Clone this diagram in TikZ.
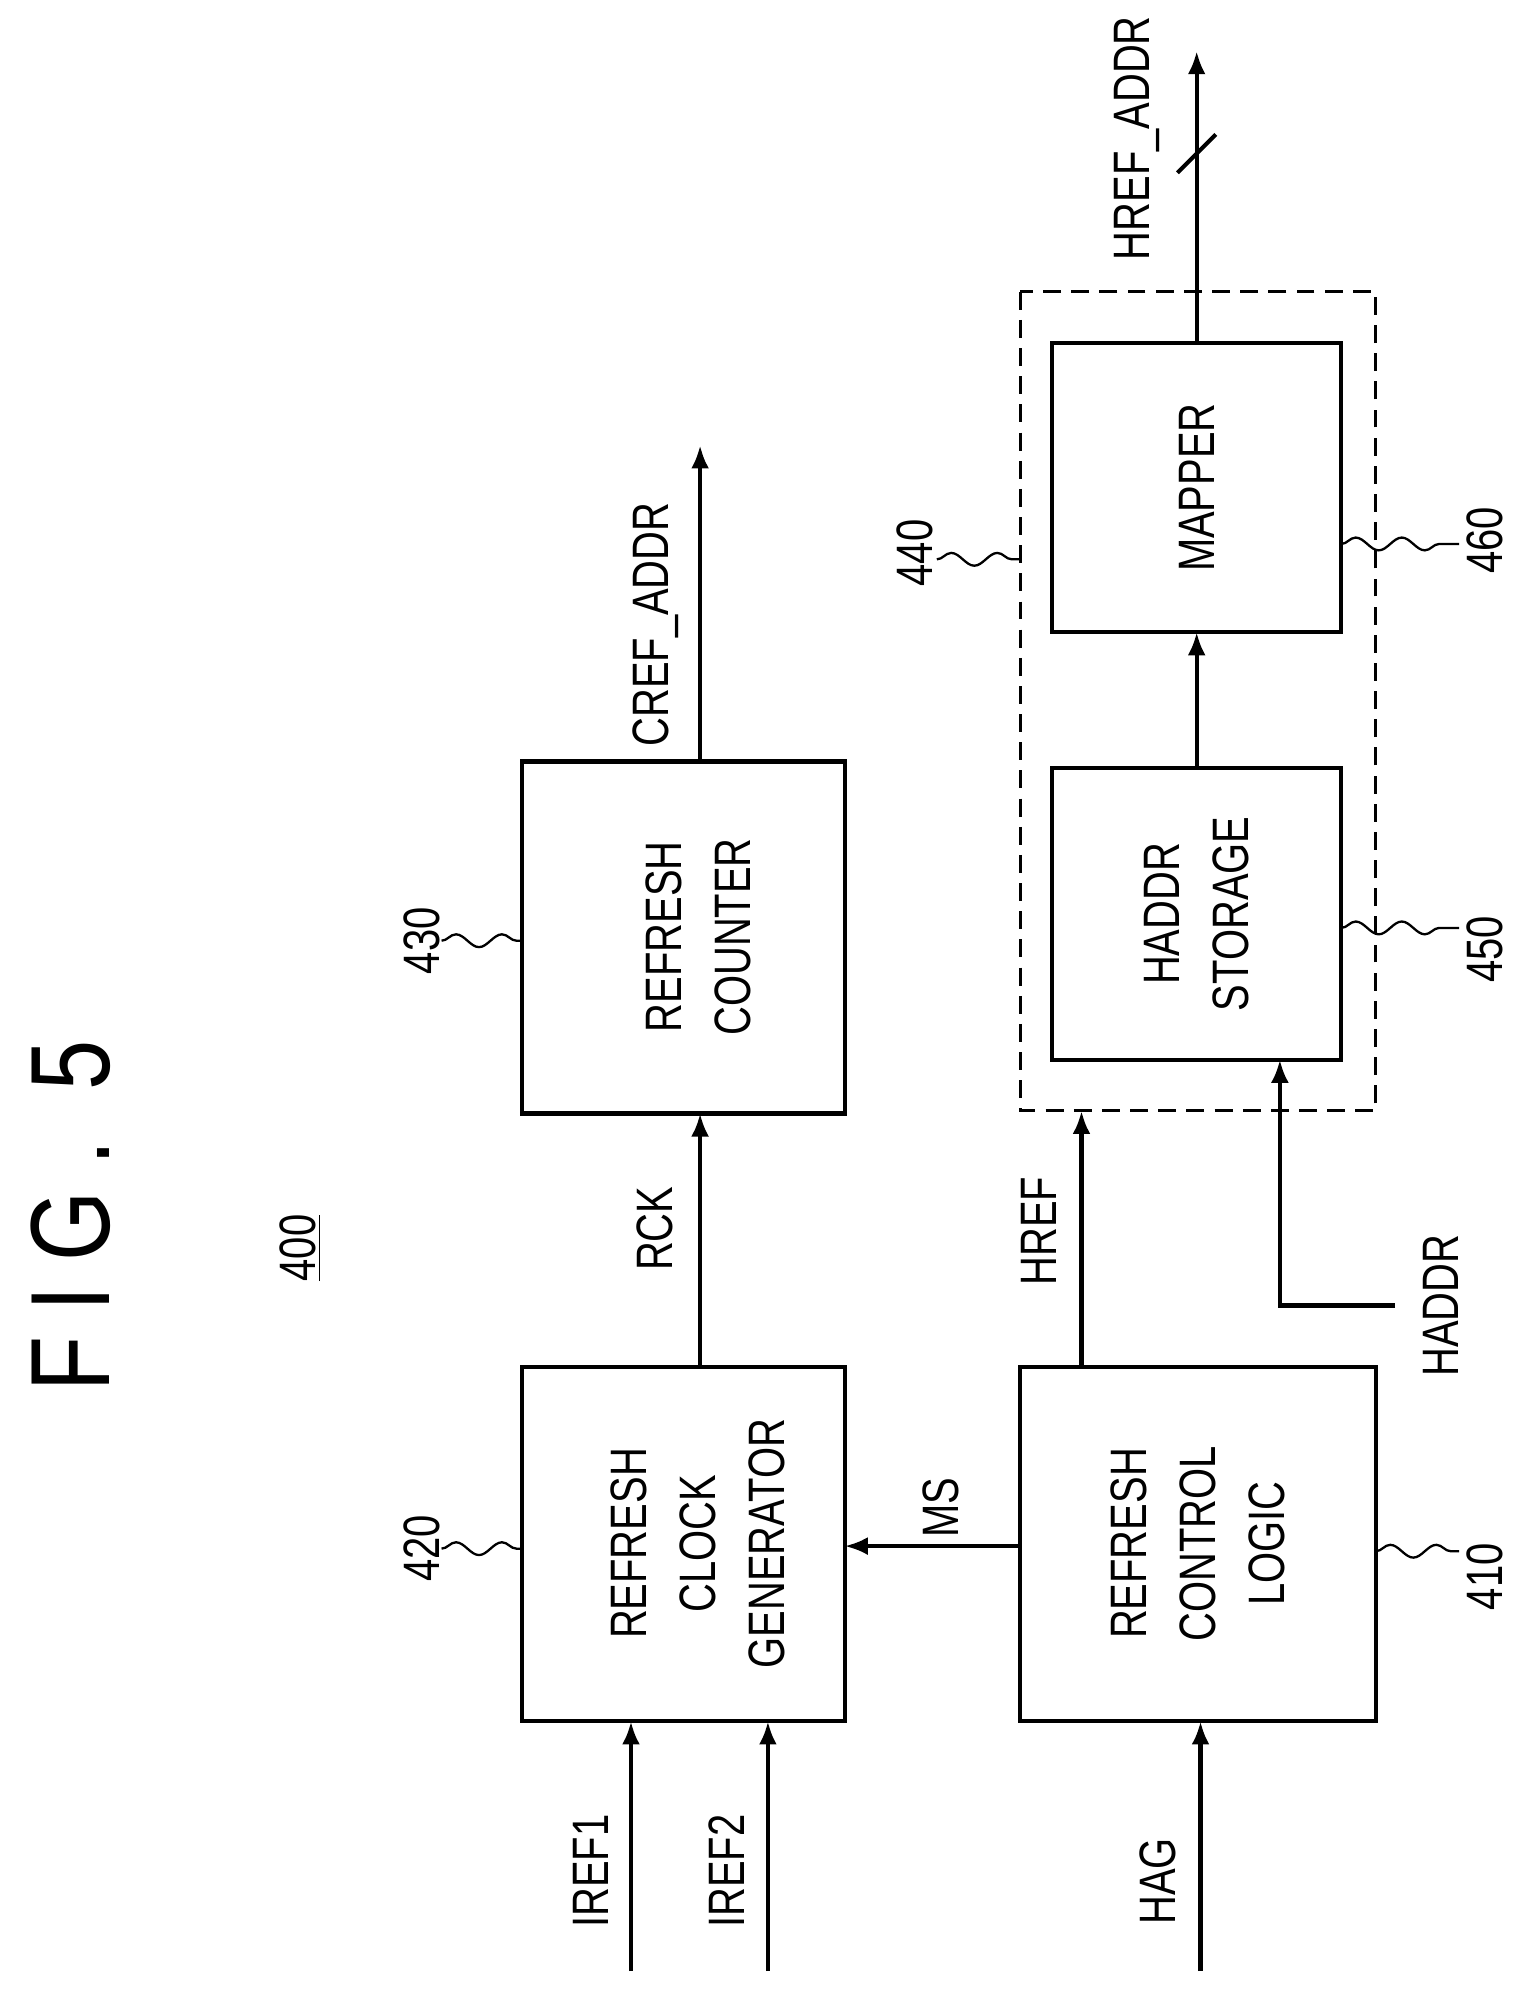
\documentclass[tikz,border=0pt]{standalone}
\usepackage{fontspec}
\setmainfont{Liberation Sans}
\usetikzlibrary{arrows.meta,decorations.pathmorphing}
\newcommand{\nt}[1]{\scalebox{0.78}[1]{#1}}
\begin{document}
\begin{tikzpicture}[x=0.5pt,y=-0.5pt,
  blk/.style={draw,line width=1.6pt},
  sig/.style={line width=1.6pt,-{Latex[length=9pt,width=7pt]}},
  lbl/.style={rotate=90,font=\fontsize{20}{24}\selectfont,inner sep=0pt},
  ml/.style={lbl,align=center,font=\fontsize{20}{27}\selectfont},
  sq/.style={line width=0.9pt,decorate,decoration={snake,amplitude=2.5pt,segment length=18pt}}]
\useasboundingbox (0,0) rectangle (1190,1565);
% boxes
\draw[blk] (408,1068) rectangle (660,1345);
\draw[blk] (797,1068) rectangle (1075,1345);
\draw[blk] (408,595) rectangle (660,870);
\draw[blk] (822,600) rectangle (1048,828);
\draw[blk] (822,268) rectangle (1048,494);
\draw[line width=1.2pt,dash pattern=on 7pt off 4pt] (797,228) rectangle (1075,868);
% box texts
\node[ml] at (545,1206) {\nt{REFRESH}\\\nt{CLOCK}\\\nt{GENERATOR}};
\node[ml] at (936,1206) {\nt{REFRESH}\\\nt{CONTROL}\\\nt{LOGIC}};
\node[ml] at (546,732) {\nt{REFRESH}\\\nt{COUNTER}};
\node[ml] at (935,714) {\nt{HADDR}\\\nt{STORAGE}};
\node[lbl] at (935,381) {\nt{MAPPER}};
% signals
\draw[sig] (493,1540) -- (493,1345);
\draw[sig] (600,1540) -- (600,1345);
\draw[sig] (938,1540) -- (938,1345);
\draw[sig] (547,1068) -- (547,870);
\draw[sig] (547,595) -- (547,348);
\draw[sig] (797,1208) -- (660,1208);
\draw[sig] (845,1068) -- (845,868);
\draw[sig] (1090,1020) -- (1000,1020) -- (1000,828);
\draw[sig] (935,600) -- (935,494);
\draw[sig] (935,268) -- (935,40);
\draw[line width=1.6pt] (920,135) -- (950,105);
% signal labels
\node[lbl] at (462,1462) {\nt{IREF1}};
\node[lbl] at (568,1462) {\nt{IREF2}};
\node[lbl] at (905,1470) {\nt{HAG}};
\node[lbl] at (735,1178) {\nt{MS}};
\node[lbl] at (512,960) {\nt{RCK}};
\node[lbl] at (512,488) {\nt{CREF\_ADDR}};
\node[lbl] at (812,962) {\nt{HREF}};
\node[lbl] at (1126,1020) {\nt{HADDR}};
\node[lbl] at (888,108) {\nt{HREF\_ADDR}};
% title
\node[lbl,font=\fontsize{44}{50}\selectfont] at (55,950) {\scalebox{0.8}[1]{F I G .\ \ 5}};
\node[lbl] at (235,975) {\nt{\underline{400}}};
% reference numbers
\node[lbl] at (330,735) {\nt{430}};
\draw[sq] (345,735) -- (408,735);
\node[lbl] at (330,1210) {\nt{420}};
\draw[sq] (345,1210) -- (408,1210);
\node[lbl] at (1160,1232) {\nt{410}};
\draw[sq] (1075,1212) -- (1140,1212);
\node[lbl] at (1160,742) {\nt{450}};
\draw[sq] (1048,725) -- (1140,725);
\node[lbl] at (1160,422) {\nt{460}};
\draw[sq] (1048,425) -- (1140,425);
\node[lbl] at (715,432) {\nt{440}};
\draw[sq] (732,437) -- (797,437);
\end{tikzpicture}
\end{document}
